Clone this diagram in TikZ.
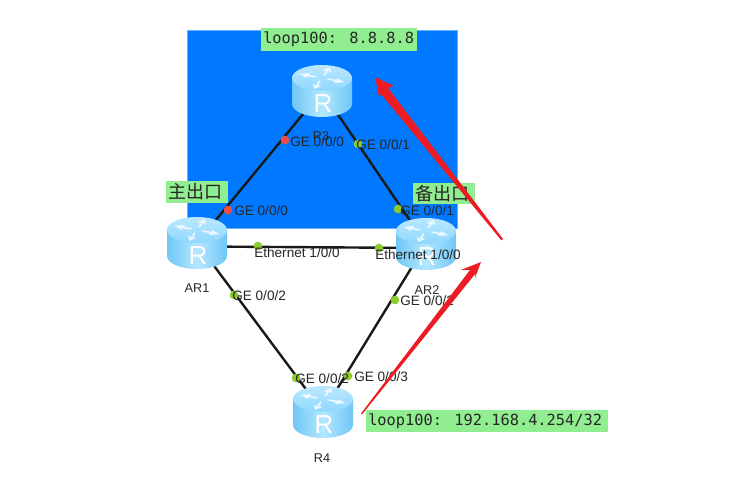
\documentclass[tikz,border=0pt]{standalone}
\usepackage{fontspec}
\setmainfont{Liberation Sans}
\newfontfamily\monof{DejaVu Sans Mono}
\newfontfamily\cjkf{Noto Sans CJK SC}
\tikzset{
  rslot/.style={inner sep=0pt,minimum width=45pt,minimum height=39pt},
  link/.style={line width=1.8pt,black!90},
  tagbox/.style={fill=tagg,inner sep=0pt,anchor=west,align=left},
  ifl/.style={font=\fontsize{10.2}{12}\selectfont,text=black!85,inner sep=0pt,anchor=west},
  dotg/.style={circle,fill=dotgreen,inner sep=0pt,minimum size=6.5pt},
  dotr/.style={circle,fill=dotred,inner sep=0pt,minimum size=6.5pt},
  rname/.style={font=\fontsize{9.5}{12}\selectfont,text=black!85,inner sep=0pt},
}
\definecolor{tagg}{HTML}{90EE90}
\definecolor{dotgreen}{HTML}{8CCB2E}
\definecolor{dotred}{HTML}{F04B45}
\definecolor{bluebg}{HTML}{0078FF}
\definecolor{redarrow}{HTML}{ED1C24}
\definecolor{rtop}{HTML}{8ED8FF}
\definecolor{rside}{HTML}{B4E8FF}
\definecolor{rdark}{HTML}{70C6F6}
\newcommand{\routerdraw}[1]{%
  \begin{scope}[shift={(#1.center)}]
    \path[left color=rdark,right color=rdark,middle color=rside]
      (-30,-13) -- (-30,13) arc[x radius=30,y radius=13,start angle=180,end angle=0] -- (30,-13) -- cycle;
    \path[top color=rtop!60!white,bottom color=rtop]
      (0,-13) ellipse[x radius=30,y radius=13];
    \foreach \a in {20,110,200,290}{
      \draw[white,line width=1.2pt,opacity=.8,yscale=.5,shift={(0,-26)}]
        (\a:6) -- (\a:21) (\a+14:15) -- (\a:21) -- (\a-14:15);
    }
    \node[text=white,font=\fontsize{19.5}{20}\selectfont,inner sep=0pt] at (1,13) {R};
  \end{scope}}
\begin{document}
\begin{tikzpicture}[x=0.75pt,y=-0.75pt]
\useasboundingbox (0,0) rectangle (744,495);
\fill[white] (0,0) rectangle (744,495);
\filldraw[fill=bluebg,draw=bluebg!60!white,line width=.4pt] (187,30) rectangle (457,228);
\node[rslot] (r3) at (322,91) {};
\node[rslot] (ar1) at (197,243) {};
\node[rslot] (ar2) at (426,244) {};
\node[rslot] (r4) at (323,412) {};
\draw[link] (r3.center) -- (ar1.center);
\draw[link] (r3.center) -- (ar2.center);
\draw[link] ([yshift=-2.6pt]ar1.center) -- ([yshift=-3pt]ar2.center);
\draw[link] (ar1.center) -- (r4.center);
\draw[link] (ar2.center) -- (r4.center);
\routerdraw{r3}\routerdraw{ar1}\routerdraw{ar2}\routerdraw{r4}
% tags
\node[tagbox,minimum width=117pt,minimum height=17pt,font=\monof\fontsize{11.5}{12}\selectfont,text=black!85] (t1) at (261,39.5) {\makebox[117pt][l]{\hspace{1.5pt}loop100: 8.8.8.8}};
\node[tagbox,minimum width=46.5pt,minimum height=16.5pt,font=\cjkf\fontsize{13.5}{14}\selectfont,text=black!85] (t2) at (166,192) {\makebox[46.5pt][l]{\hspace{1.5pt}主出口}};
\node[tagbox,minimum width=46.5pt,minimum height=16pt,font=\cjkf\fontsize{13.5}{14}\selectfont,text=black!85] (t3) at (413,193.5) {\makebox[46.5pt][l]{\hspace{2pt}备出口}};
\node[tagbox,minimum width=181pt,minimum height=16.5pt,font=\monof\fontsize{11.5}{12}\selectfont,text=black!85] (t4) at (366,421) {\makebox[181pt][l]{\hspace{1.5pt}loop100: 192.168.4.254/32}};
% dots
\node[dotr] (d1) at (285,140) {};
\node[dotg] (d2) at (358,144) {};
\node[dotr] (d3) at (228,210) {};
\node[dotg] (d4) at (398,209) {};
\node[dotg] (d5) at (258,246) {};
\node[dotg] (d6) at (379,248) {};
\node[dotg] (d7) at (234,295) {};
\node[dotg] (d8) at (395,300) {};
\node[dotg] (d9) at (296,378) {};
\node[dotg] (d10) at (348,376) {};
% interface labels
\node[ifl] (l1) at (290,142) {GE 0/0/0};
\node[ifl] (l2) at (356,145) {GE 0/0/1};
\node[ifl] (l3) at (234,211) {GE 0/0/0};
\node[ifl] (l4) at (400,211) {GE 0/0/1};
\node[ifl] (l5) at (254,253) {Ethernet 1/0/0};
\node[ifl] (l6) at (375,255) {Ethernet 1/0/0};
\node[ifl] (l7) at (232,296) {GE 0/0/2};
\node[ifl] (l8) at (400,301) {GE 0/0/2};
\node[ifl] (l9) at (295,379) {GE 0/0/2};
\node[ifl] (l10) at (354,377) {GE 0/0/3};
% router names
\node[rname] (n1) at (321,136) {R3};
\node[rname] (n2) at (197,288) {AR1};
\node[rname] (n3) at (427,290) {AR2};
\node[rname] (n4) at (322,458) {R4};
% red arrows
\fill[redarrow] (503,239) -- (501.5,240.5) -- (381,94) -- (379,97) -- (375,77) -- (394,86) -- (388,88) -- cycle;
\fill[redarrow] (361,413.5) -- (362,414.5) -- (475.5,273.5) -- (475,278) -- (481,262) -- (461,270) -- (470,270) -- cycle;
\end{tikzpicture}
\end{document}
